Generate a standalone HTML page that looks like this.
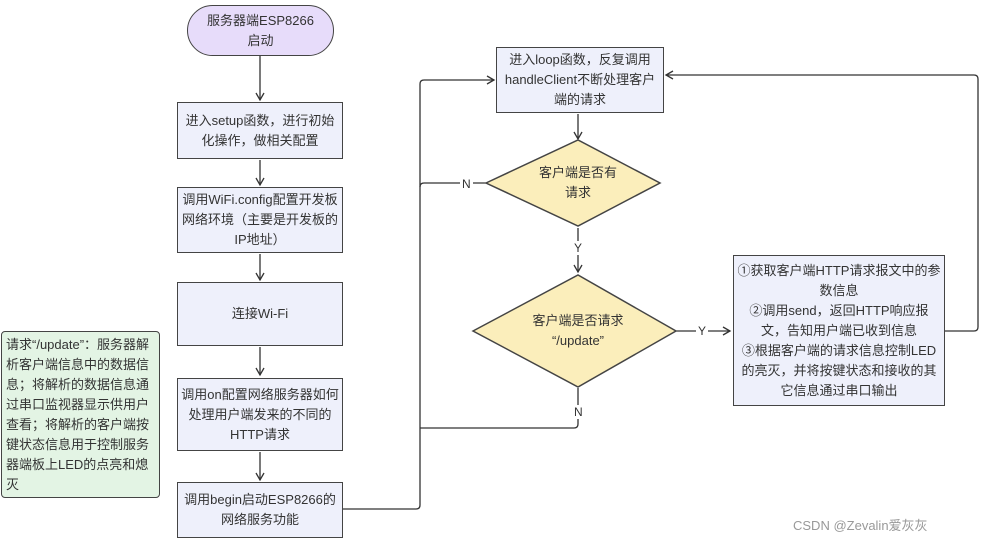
<!DOCTYPE html>
<html><head><meta charset="utf-8"><style>
body{margin:0;width:983px;height:542px;background:#fff;position:relative;overflow:hidden;font-family:"Liberation Sans","Noto Sans CJK SC",sans-serif;color:#333;}
.b{position:absolute;box-sizing:border-box;border:1.5px solid #444;background:#eef0fb;display:flex;align-items:center;justify-content:center;text-align:center;font-size:13px;line-height:20px;padding:0 3px;}
.t{position:absolute;display:flex;align-items:center;justify-content:center;text-align:center;font-size:13px;line-height:20px;}
.l{position:absolute;font-size:12px;background:#fff;padding:0 2px;line-height:14px;}
</style></head><body>
<svg width="983" height="542" style="position:absolute;left:0;top:0">
<defs><marker id="a" markerWidth="10" markerHeight="10" refX="8" refY="5" orient="auto" markerUnits="userSpaceOnUse"><path d="M1,1 L8,5 L1,9" fill="none" stroke="#333" stroke-width="1.3"/></marker></defs>
<g stroke="#333" stroke-width="1.3" fill="none">
<line x1="260" y1="56" x2="260" y2="100" marker-end="url(#a)"/>
<line x1="260" y1="160" x2="260" y2="185" marker-end="url(#a)"/>
<line x1="260" y1="254" x2="260" y2="280" marker-end="url(#a)"/>
<line x1="260" y1="347" x2="260" y2="375" marker-end="url(#a)"/>
<line x1="260" y1="452" x2="260" y2="480" marker-end="url(#a)"/>
<path d="M343,509 H416 Q420,509 420,505 V84 Q420,80 424,80 H494" marker-end="url(#a)"/>
<line x1="578" y1="114" x2="578" y2="139" marker-end="url(#a)"/>
<path d="M486,183 H424 Q420,183 420,187"/>
<path d="M578,228 V272" marker-end="url(#a)"/>
<path d="M578,388 V424 Q578,428 574,428 H420"/>
<path d="M647,331 H730" marker-end="url(#a)"/>
<path d="M945,331 H974 Q978,331 978,327 V79 Q978,75 974,75 H666" marker-end="url(#a)"/>
</g>
<polygon points="486,183 578,140 660,183 578,226" fill="#fbeebb" stroke="#444" stroke-width="1.5"/>
<polygon points="473,331 578,275 676,331 578,387" fill="#fbeebb" stroke="#444" stroke-width="1.5"/>
</svg>
<div class="b" style="left:187px;top:5px;width:147px;height:51px;border-radius:26px;background:#e7dcfa">服务器端ESP8266<br>启动</div>
<div class="b" style="left:177px;top:102px;width:166px;height:57px">进入setup函数，进行初始化操作，做相关配置</div>
<div class="b" style="left:177px;top:187px;width:166px;height:66px">调用WiFi.config配置开发板网络环境（主要是开发板的IP地址）</div>
<div class="b" style="left:177px;top:282px;width:166px;height:64px">连接Wi-Fi</div>
<div class="b" style="left:177px;top:378px;width:166px;height:73px">调用on配置网络服务器如何处理用户端发来的不同的HTTP请求</div>
<div class="b" style="left:177px;top:482px;width:166px;height:56px">调用begin启动ESP8266的网络服务功能</div>
<div class="b" style="left:1px;top:331px;width:159px;height:167px;background:#e3f4e4;border-radius:4px;text-align:left;justify-content:flex-start;padding:0 4px">请求“/update”：服务器解析客户端信息中的数据信息；将解析的数据信息通过串口监视器显示供用户查看；将解析的客户端按键状态信息用于控制服务器端板上LED的点亮和熄灭</div>
<div class="b" style="left:496px;top:47px;width:168px;height:66px">进入loop函数，反复调用handleClient不断处理客户端的请求</div>
<div class="t" style="left:520px;top:163px;width:116px;height:40px">客户端是否有<br>请求</div>
<div class="t" style="left:510px;top:311px;width:136px;height:40px">客户端是否请求<br>“/update”</div>
<div class="b" style="left:733px;top:255px;width:212px;height:151px">①获取客户端HTTP请求报文中的参数信息<br>②调用send，返回HTTP响应报文，告知用户端已收到信息<br>③根据客户端的请求信息控制LED的亮灭，并将按键状态和接收的其它信息通过串口输出</div>
<div class="l" style="left:460px;top:177px">N</div>
<div class="l" style="left:572px;top:241px">Y</div>
<div class="l" style="left:572px;top:405px">N</div>
<div class="l" style="left:696px;top:324px">Y</div>
<div style="position:absolute;left:793px;top:515px;font-size:13px;color:#999">CSDN @Zevalin爱灰灰</div>
</body></html>
